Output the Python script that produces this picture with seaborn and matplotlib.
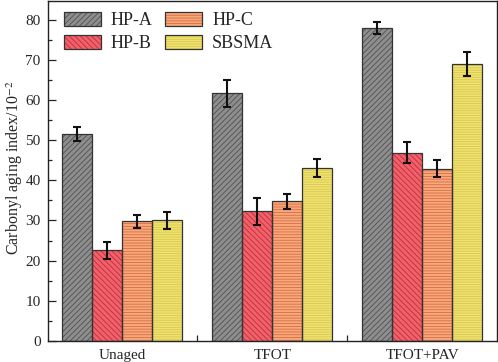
import pandas as pd
import matplotlib
matplotlib.use("Agg")
import matplotlib.pyplot as plt
import seaborn as sns
from matplotlib.patches import Rectangle, Patch
from matplotlib.ticker import MultipleLocator, FixedLocator

# --- data ---
conditions = ["Unaged", "TFOT", "TFOT+PAV"]
binders = ["HP-A", "HP-B", "HP-C", "SBSMA"]
hp_a = [51.5, 61.6, 77.9]
hp_b = [22.6, 32.3, 46.9]
hp_c = [29.8, 34.8, 42.9]
sbsma = [30.0, 43.1, 68.9]
err_a = [1.8, 3.3, 1.5]
err_b = [2.1, 3.4, 2.6]
err_c = [1.6, 1.9, 2.1]
err_s = [2.1, 2.3, 3.0]

face_colors = ["#8e8e8e", "#f2606a", "#f8a97a", "#f0e270"]
hatch_colors = ["#505050", "#b8303c", "#d86a48", "#d8c850"]
hatches = ["//////", "\\\\\\\\\\\\", "------", "-------"]

rows = []
for b, vals in zip(binders, [hp_a, hp_b, hp_c, sbsma]):
    for c, v in zip(conditions, vals):
        rows.append({"Condition": c, "Binder": b, "Value": v})
df = pd.DataFrame(rows)
errors = [err_a, err_b, err_c, err_s]

# --- style ---
sns.set_style("white")
plt.rcParams["font.family"] = ["Liberation Serif", "DejaVu Serif"]
plt.rcParams["mathtext.fontset"] = "stix"
plt.rcParams["hatch.linewidth"] = 0.6

fig = plt.figure(figsize=(4.98, 3.62), dpi=100)
ax = fig.add_axes([0.0954, 0.058, 0.9026, 0.939])

sns.barplot(data=df, x="Condition", y="Value", hue="Binder", order=conditions,
            hue_order=binders, palette=face_colors, saturation=1, width=0.8,
            errorbar=None, legend=False, ax=ax)

edge = "#333333"
handles = []
for container, hc, ht, fc, errs in zip(ax.containers, hatch_colors, hatches,
                                       face_colors, errors):
    xs, ys = [], []
    for p in container.patches:
        p.set_hatch(ht)
        p.set_edgecolor(hc)
        p.set_linewidth(0)
        ax.add_patch(Rectangle(p.get_xy(), p.get_width(), p.get_height(),
                               fill=False, edgecolor=edge, linewidth=0.9, zorder=3))
        xs.append(p.get_x() + p.get_width() / 2)
        ys.append(p.get_height())
    ax.errorbar(xs, ys, yerr=errs, fmt="none", ecolor="#111111",
                elinewidth=1.5, capsize=3, capthick=1.5, zorder=4)
    handles.append((Patch(facecolor=fc, edgecolor=hc, hatch=ht, linewidth=0),
                    Patch(fill=False, edgecolor=edge, linewidth=0.9)))

ax.legend(handles, binders, ncol=2, loc="upper left", frameon=False,
          fontsize=13, handlelength=2.05, handleheight=0.8,
          columnspacing=0.7, handletextpad=0.55, labelspacing=0.3,
          bbox_to_anchor=(0.0, 1.015))

ax.set_xlim(-0.5, 2.5)
ax.set_ylim(0, 84.6)
ax.set_xlabel("")
ax.set_ylabel("Carbonyl aging index/10$^{-2}$", fontsize=11.5)
ax.yaxis.set_label_coords(-0.051, 0.51)

ax.yaxis.set_major_locator(MultipleLocator(10))
ax.yaxis.set_minor_locator(MultipleLocator(5))
ax.tick_params(axis="y", which="major", direction="in", length=6, width=0.9,
               labelsize=11, left=True, pad=5)
ax.tick_params(axis="y", which="minor", direction="in", length=3, width=0.9,
               left=True)
ax.xaxis.set_minor_locator(FixedLocator([0.5, 1.5]))
ax.tick_params(axis="x", which="major", length=0, labelsize=11, pad=6)
ax.tick_params(axis="x", which="minor", direction="in", length=4, width=0.9,
               bottom=True)

for s in ax.spines.values():
    s.set_color("#222222")
    s.set_linewidth(1.0)

fig.savefig("out.png", dpi=100)
